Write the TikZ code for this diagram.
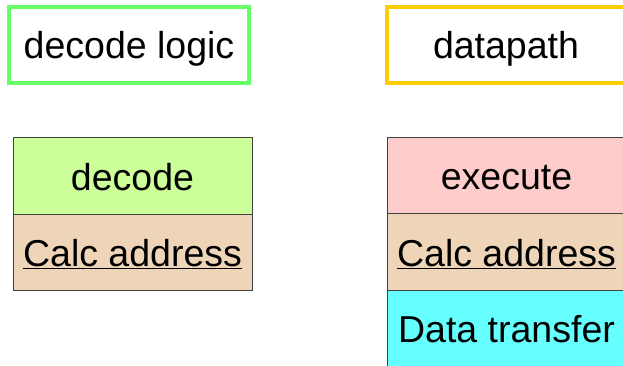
\documentclass[tikz,border=0pt]{standalone}
\usepackage{fontspec}
\setmainfont{Liberation Sans}
\definecolor{logicgreen}{HTML}{66FF66}
\definecolor{pathyellow}{HTML}{FFCC00}
\definecolor{decodegreen}{HTML}{CCFF99}
\definecolor{calcbrown}{HTML}{EED5B7}
\definecolor{executered}{HTML}{FFCCCC}
\definecolor{transfercyan}{HTML}{66FFFF}
\tikzset{
  boxtext/.style={font=\fontsize{37.5}{44}\selectfont, text height=30pt, text depth=2pt, inner sep=0pt, outer sep=0pt},
  titlebox/.style={boxtext, line width=4pt, minimum height=76pt},
  stagebox/.style={boxtext, draw=black!75, line width=0.8pt, minimum width=239pt, minimum height=76.5pt}
}
\begin{document}
\begin{tikzpicture}[x=1pt,y=-1pt]
    \useasboundingbox (0,0) rectangle (623,366);

    % Title boxes
    \node[titlebox, draw=logicgreen, minimum width=240pt] (logic) at (129,45) {decode logic};
    \node[titlebox, draw=pathyellow, minimum width=238pt] (datapath) at (506,45) {datapath};

    % Left column of stages
    \foreach \y/\name/\col/\txt in {176/decode/decodegreen/decode, 252.5/calcL/calcbrown/\underline{Calc address}}
        \node[stagebox, fill=\col] (\name) at (132.5,\y) {\txt};

    % Right column of stages
    \foreach \y/\name/\col/\txt in {175.5/execute/executered/execute, 252/calcR/calcbrown/\underline{Calc address}, 328.5/transfer/transfercyan/Data transfer}
        \node[stagebox, fill=\col] (\name) at (506.5,\y) {\txt};
\end{tikzpicture}
\end{document}
